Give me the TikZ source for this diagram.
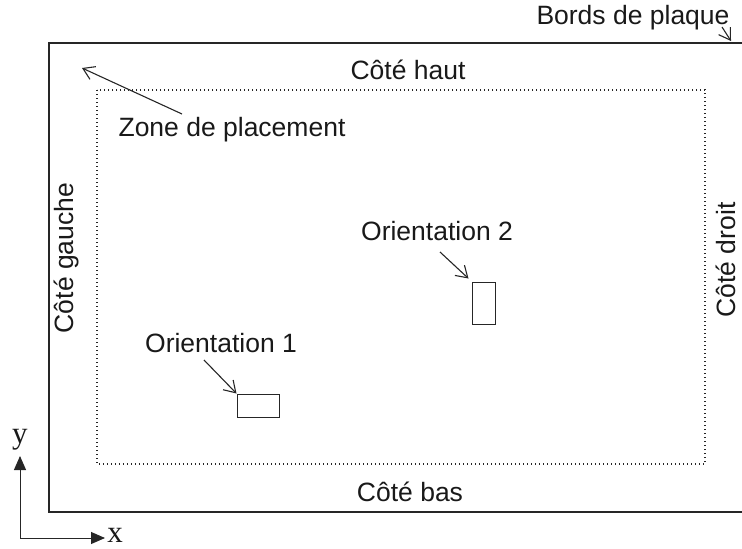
\documentclass[tikz,border=0pt]{standalone}
\usepackage{fontspec}
\setmainfont{Liberation Sans}
\newfontfamily\axfont{Liberation Serif}
\usetikzlibrary{arrows.meta,positioning}

\begin{document}
\begin{tikzpicture}[x=1pt, y=-1pt,
  lbl/.style   ={font=\fontsize{26.5}{30}\selectfont, inner sep=0pt, text=black!90},
  axlbl/.style ={font=\axfont\fontsize{31}{32}\selectfont, inner sep=0pt, text=black!90},
  frame/.style ={draw=black!85, line width=1.2pt},
  zone/.style  ={draw=black!85, line width=1.1pt, dash pattern=on 1.1pt off 2.9pt},
  piece/.style ={rectangle, draw=black!85, line width=1pt, inner sep=0pt},
  pointer/.style={draw=black!85, line width=1.1pt, -{Straight Barb[length=11pt,width=14pt]}},
  axis/.style  ={draw=black!85, line width=1pt, -{Triangle[length=14pt,width=12pt]}},
]
\useasboundingbox (0,0) rectangle (742,549);

% plate edges and placement zone
\draw[frame] (745,43) -- (49,43) -- (49,512) -- (745,512);
\draw[zone] (97,90) rectangle (705,464);

% side labels
\node[lbl] (haut)   at (408,70)  {Côté haut};
\node[lbl] (bas)    at (410,492) {Côté bas};
\node[lbl, rotate=90] (gauche) at (66,258)  {Côté gauche};
\node[lbl, rotate=90] (droit)  at (726,260) {Côté droit};

% plate edge label
\node[lbl] (bords) at (633,18) {Bords de plaque};
\coordinate (bordstail) at (722,27);
\coordinate (bordstip)  at (731,41);
\draw[pointer] (bordstail) -- (bordstip);

% placement zone label
\node[lbl] (zonelbl) at (232,130) {Zone de placement};
\coordinate (zonetail) at (182,114);
\coordinate (zonetip)  at (82,68);
\draw[pointer] (zonetail) -- (zonetip);

% pieces
\node[piece, minimum width=42pt, minimum height=23pt] (o1) at (258,405.5) {};
\node[piece, minimum width=23pt, minimum height=42pt] (o2) at (483.5,303) {};
\node[lbl] (o1lbl) at (221,343) {Orientation 1};
\node[lbl] (o2lbl) at (437,231) {Orientation 2};
\coordinate (o1tail) at (204,360);
\coordinate (o2tail) at (440,252);
\draw[pointer] (o1tail) -- (o1.north west);
\draw[pointer] (o2tail) -- ([shift={(-3,-3)}]o2.north west);

% axes
\coordinate (orig) at (20,538);
\coordinate (ytip) at (20,456);
\coordinate (xtip) at (105,538);
\draw[axis] (orig) -- (ytip);
\draw[axis] (orig) -- (xtip);
\node[axlbl] (ylbl) at (20,440) {y};
\node[axlbl] (xlbl) at (115,535) {x};
\end{tikzpicture}
\end{document}
